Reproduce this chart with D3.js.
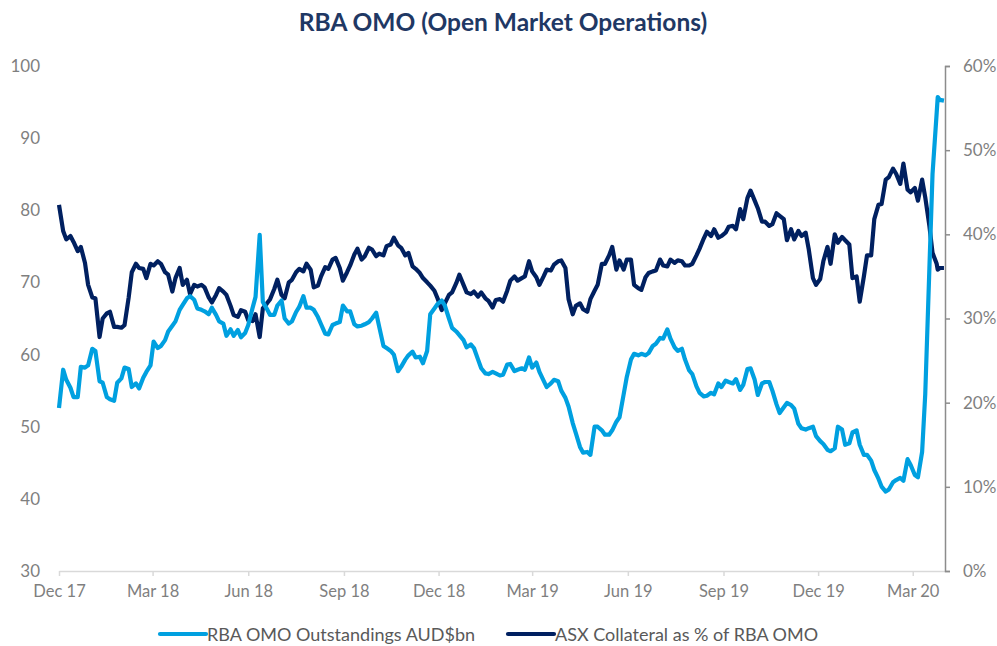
<!DOCTYPE html>
<html>
<head>
<meta charset="utf-8">
<script src="https://cdn.jsdelivr.net/npm/d3@7"></script>
<style>
  body { margin: 0; background: #fff; }
  svg text { font-family: Lato, "Open Sans", sans-serif; }
</style>
</head>
<body>
<div id="chart"></div>
<script>
// data, twice a week (Fri / Tue), one line per month
const dates = [
  "2017-12-01","2017-12-05","2017-12-08","2017-12-12","2017-12-15","2017-12-19","2017-12-22","2017-12-26","2017-12-29","2018-01-02",
  "2018-01-05","2018-01-09","2018-01-12","2018-01-16","2018-01-19","2018-01-23","2018-01-26","2018-01-30",
  "2018-02-02","2018-02-06","2018-02-09","2018-02-13","2018-02-16","2018-02-20","2018-02-23","2018-02-27",
  "2018-03-02","2018-03-06","2018-03-09","2018-03-13","2018-03-16","2018-03-20","2018-03-23","2018-03-27","2018-03-30","2018-04-03",
  "2018-04-06","2018-04-10","2018-04-13","2018-04-17","2018-04-20","2018-04-24","2018-04-27","2018-05-01",
  "2018-05-04","2018-05-08","2018-05-11","2018-05-15","2018-05-18","2018-05-22","2018-05-25","2018-05-29",
  "2018-06-01","2018-06-05","2018-06-08","2018-06-12","2018-06-15","2018-06-19","2018-06-22","2018-06-26","2018-06-29","2018-07-03",
  "2018-07-06","2018-07-10","2018-07-13","2018-07-17","2018-07-20","2018-07-24","2018-07-27","2018-07-31",
  "2018-08-03","2018-08-07","2018-08-10","2018-08-14","2018-08-17","2018-08-21","2018-08-24","2018-08-28","2018-08-31","2018-09-04",
  "2018-09-07","2018-09-11","2018-09-14","2018-09-18","2018-09-21","2018-09-25","2018-09-28","2018-10-02",
  "2018-10-05","2018-10-09","2018-10-12","2018-10-16","2018-10-19","2018-10-23","2018-10-26","2018-10-30",
  "2018-11-02","2018-11-06","2018-11-09","2018-11-13","2018-11-16","2018-11-20","2018-11-23","2018-11-27","2018-11-30","2018-12-04",
  "2018-12-07","2018-12-11","2018-12-14","2018-12-18","2018-12-21","2018-12-25","2018-12-28","2019-01-01",
  "2019-01-04","2019-01-08","2019-01-11","2019-01-15","2019-01-18","2019-01-22","2019-01-25","2019-01-29",
  "2019-02-01","2019-02-05","2019-02-08","2019-02-12","2019-02-15","2019-02-19","2019-02-22","2019-02-26",
  "2019-03-01","2019-03-05","2019-03-08","2019-03-12","2019-03-15","2019-03-19","2019-03-22","2019-03-26","2019-03-29","2019-04-02",
  "2019-04-05","2019-04-09","2019-04-12","2019-04-16","2019-04-19","2019-04-23","2019-04-26","2019-04-30",
  "2019-05-03","2019-05-07","2019-05-10","2019-05-14","2019-05-17","2019-05-21","2019-05-24","2019-05-28","2019-05-31","2019-06-04",
  "2019-06-07","2019-06-11","2019-06-14","2019-06-18","2019-06-21","2019-06-25","2019-06-28","2019-07-02",
  "2019-07-05","2019-07-09","2019-07-12","2019-07-16","2019-07-19","2019-07-23","2019-07-26","2019-07-30",
  "2019-08-02","2019-08-06","2019-08-09","2019-08-13","2019-08-16","2019-08-20","2019-08-23","2019-08-27","2019-08-30","2019-09-03",
  "2019-09-06","2019-09-10","2019-09-13","2019-09-17","2019-09-20","2019-09-24","2019-09-27","2019-10-01",
  "2019-10-04","2019-10-08","2019-10-11","2019-10-15","2019-10-18","2019-10-22","2019-10-25","2019-10-29",
  "2019-11-01","2019-11-05","2019-11-08","2019-11-12","2019-11-15","2019-11-19","2019-11-22","2019-11-26","2019-11-29","2019-12-03",
  "2019-12-06","2019-12-10","2019-12-13","2019-12-17","2019-12-20","2019-12-24","2019-12-27","2019-12-31",
  "2020-01-03","2020-01-07","2020-01-10","2020-01-14","2020-01-17","2020-01-21","2020-01-24","2020-01-28","2020-01-31","2020-02-04",
  "2020-02-07","2020-02-11","2020-02-14","2020-02-18","2020-02-21","2020-02-25","2020-02-28","2020-03-03",
  "2020-03-06","2020-03-10","2020-03-13","2020-03-17","2020-03-20","2020-03-24","2020-03-25","2020-03-27","2020-03-31"
];

// RBA OMO Outstandings, AUD bn (left axis)
const omo = [
  52.6,57.9,56.5,55.4,54.1,54.1,58.3,58.2,58.5,60.8,
  60.5,56.3,56.1,54.1,53.8,53.6,56.1,56.7,
  58.2,58.0,55.5,56.0,55.3,56.8,57.6,58.5,
  61.8,60.9,61.2,62.0,63.2,64.0,64.6,66.2,66.9,67.8,
  68.1,67.6,66.4,66.2,66.0,65.6,66.5,65.5,
  64.6,64.3,62.6,63.5,62.6,63.4,62.4,63.0,
  64.1,66.4,68.0,76.6,67.3,66.3,65.5,65.5,66.8,67.5,
  65.0,64.3,64.6,65.9,66.6,68.1,66.5,66.5,
  66.2,65.2,64.2,62.9,62.8,64.1,64.3,64.5,66.8,66.0,
  66.0,64.2,63.9,64.0,64.2,64.5,65.0,65.8,
  63.8,61.2,60.9,60.5,60.0,57.7,58.3,59.3,
  59.9,60.4,59.6,59.7,58.8,60.5,65.6,66.4,67.0,67.5,
  66.8,65.0,63.7,63.2,62.7,62.0,61.0,61.4,
  60.9,59.3,58.1,57.4,57.3,57.6,57.4,57.1,
  57.2,58.6,58.7,57.7,57.9,58.1,57.9,59.6,
  58.2,58.9,57.6,56.4,55.5,56.0,56.5,56.3,55.0,54.0,
  52.8,50.5,49.1,47.2,46.4,46.5,46.1,50.0,
  50.0,49.5,48.9,48.9,49.5,50.7,51.3,54.5,56.9,59.3,
  60.1,59.9,60.1,59.9,60.2,61.2,61.5,62.3,
  62.2,63.5,62.2,61.0,60.5,60.8,59.3,57.8,
  57.3,55.6,54.7,54.2,54.3,54.7,54.5,56.0,55.5,56.4,
  56.2,56.0,56.6,55.1,55.8,58.0,58.1,56.5,
  54.4,56.0,56.2,56.2,55.0,53.1,51.9,52.7,
  53.3,53.0,52.5,50.4,49.8,49.6,49.8,50.0,48.7,48.0,
  47.6,46.8,46.6,47.0,50.0,49.6,47.5,47.7,
  49.2,49.5,47.5,46.1,46.1,45.3,44.0,42.8,41.7,41.0,
  41.3,42.3,42.6,42.9,42.5,45.5,44.7,43.3,
  43.0,46.5,54.5,72.0,85.0,93.5,95.7,95.3,95.2
];

// ASX Collateral as % of RBA OMO (right axis)
const asx = [
  43.5,40.4,39.4,39.8,39.1,38.0,38.5,36.6,34.0,32.5,
  32.4,27.8,30.0,30.6,30.8,29.0,29.0,28.9,
  29.2,32.5,35.5,36.5,36.0,35.9,34.8,36.5,
  36.3,36.8,36.5,35.5,35.2,33.2,34.8,36.0,34.0,34.6,
  32.9,34.0,33.8,34.0,33.7,32.5,31.9,32.8,
  33.6,33.2,32.8,31.5,30.4,30.2,31.0,30.8,
  29.8,29.7,30.5,27.8,31.2,31.8,32.3,33.5,34.6,32.8,
  32.4,34.3,34.6,35.5,35.9,35.6,36.5,35.8,
  33.7,33.9,35.0,36.1,35.9,37.0,37.2,36.0,34.5,35.5,
  36.3,37.6,38.3,37.0,37.4,38.4,38.2,37.4,
  37.7,37.5,38.6,38.8,39.6,38.7,38.4,37.5,
  37.8,36.2,35.9,35.4,34.8,34.3,33.9,33.3,32.4,31.0,
  31.8,32.8,33.1,34.2,35.2,34.0,33.1,32.9,
  33.2,32.6,33.1,32.4,32.1,31.3,32.2,32.3,
  32.0,33.3,34.5,35.0,34.5,34.8,35.0,36.8,
  35.6,34.9,34.0,35.0,35.8,35.7,36.4,36.8,36.9,36.0,
  32.3,30.5,31.5,31.8,31.1,30.8,32.3,33.3,
  34.0,36.5,36.5,37.5,38.5,35.8,36.9,35.8,37.0,37.0,
  34.0,33.6,33.4,34.9,35.4,35.6,35.7,37.0,
  36.3,36.2,37.0,36.6,36.9,36.8,36.3,36.3,
  36.5,37.5,38.3,39.5,40.3,39.8,40.6,39.6,39.8,40.2,
  40.9,41.0,40.6,43.0,41.8,44.3,45.2,44.0,
  43.1,41.5,41.5,41.0,41.2,42.5,42.2,41.8,
  39.3,40.6,39.4,40.4,39.8,40.2,38.2,34.8,34.0,34.7,
  36.8,38.5,36.5,40.0,39.0,39.7,39.3,38.8,
  34.8,35.0,32.0,35.0,37.5,37.5,41.8,43.5,43.6,46.5,
  46.8,47.8,47.2,46.0,48.4,45.3,45.0,45.5,
  44.0,46.5,44.4,41.0,37.8,36.5,35.8,36.0,36.0
];

const tickDates = ["2017-12-01","2018-03-01","2018-06-01","2018-09-01","2018-12-01",
  "2019-03-01","2019-06-01","2019-09-01","2019-12-01","2020-03-01"];
const leftTicks = [30, 40, 50, 60, 70, 80, 90, 100];
const rightTicks = [0, 10, 20, 30, 40, 50, 60];

const seriesNames = ["RBA OMO Outstandings AUD$bn", "ASX Collateral as % of RBA OMO"];
const colors = ["#00a0e0", "#002060"];

const width = 997, height = 646;
const parse = d3.timeParse("%Y-%m-%d");

const svg = d3.select("#chart").append("svg")
  .attr("width", width)
  .attr("height", height);

// scales
const x = d3.scaleTime()
  .domain([parse("2017-12-01"), parse("2020-04-01")])
  .range([59, 945]);
const yL = d3.scaleLinear().domain([30, 100]).range([571, 66]);
const yR = d3.scaleLinear().domain([0, 60]).range([571, 66]);

// title
svg.append("text")
  .attr("x", 503)
  .attr("y", 31)
  .attr("text-anchor", "middle")
  .attr("font-size", 24.5)
  .attr("font-weight", "bold")
  .attr("fill", "#1f3864")
  .text("RBA OMO (Open Market Operations)");

// x axis
const xAxis = svg.append("g")
  .attr("transform", "translate(0,571)")
  .call(d3.axisBottom(x)
    .tickValues(tickDates.map(parse))
    .tickFormat(d3.timeFormat("%b %y"))
    .tickSize(5)
    .tickSizeOuter(0)
    .tickPadding(9));
xAxis.select(".domain").attr("stroke", "#d9d9d9").attr("stroke-width", 1.5);
xAxis.selectAll(".tick line").attr("stroke", "#d9d9d9").attr("stroke-width", 1.5);
xAxis.selectAll("text").attr("font-size", 16.5).attr("fill", "#7f7f7f");

// left axis (labels only)
const leftAxis = svg.append("g")
  .attr("transform", "translate(59,0)")
  .call(d3.axisLeft(yL).tickValues(leftTicks).tickSize(0).tickPadding(19));
leftAxis.select(".domain").remove();
leftAxis.selectAll("text").attr("font-size", 17).attr("fill", "#7f7f7f");

// right axis
const rightAxis = svg.append("g")
  .attr("transform", "translate(945,0)")
  .call(d3.axisRight(yR).tickValues(rightTicks).tickSize(5).tickPadding(13)
    .tickFormat(d => d + "%"));
rightAxis.select(".domain").attr("stroke", "#8c8c8c").attr("stroke-width", 1.5);
rightAxis.selectAll(".tick line").attr("stroke", "#8c8c8c").attr("stroke-width", 1.5);
rightAxis.selectAll("text").attr("font-size", 17).attr("fill", "#7f7f7f");

// lines
const rows = dates.map((d, i) => ({ date: parse(d), omo: omo[i], asx: asx[i] }));

const lineAsx = d3.line().x(d => x(d.date)).y(d => yR(d.asx));
const lineOmo = d3.line().x(d => x(d.date)).y(d => yL(d.omo));

svg.append("path")
  .datum(rows)
  .attr("d", lineAsx)
  .attr("fill", "none")
  .attr("stroke", colors[1])
  .attr("stroke-width", 4.2)
  .attr("stroke-linejoin", "round");

svg.append("path")
  .datum(rows)
  .attr("d", lineOmo)
  .attr("fill", "none")
  .attr("stroke", colors[0])
  .attr("stroke-width", 4.2)
  .attr("stroke-linejoin", "round");

// legend
const legendX = [160, 508];
const legend = svg.selectAll(".legend")
  .data(seriesNames)
  .enter()
  .append("g")
  .attr("class", "legend")
  .attr("transform", (d, i) => `translate(${legendX[i]},634)`);

legend.append("line")
  .attr("x1", 0).attr("x2", 46)
  .attr("stroke", (d, i) => colors[i])
  .attr("stroke-width", 4.2)
  .attr("stroke-linecap", "round");

legend.append("text")
  .attr("x", 47)
  .attr("y", 6.5)
  .attr("font-size", 18)
  .attr("fill", "#595959")
  .text(d => d);
</script>
</body>
</html>
